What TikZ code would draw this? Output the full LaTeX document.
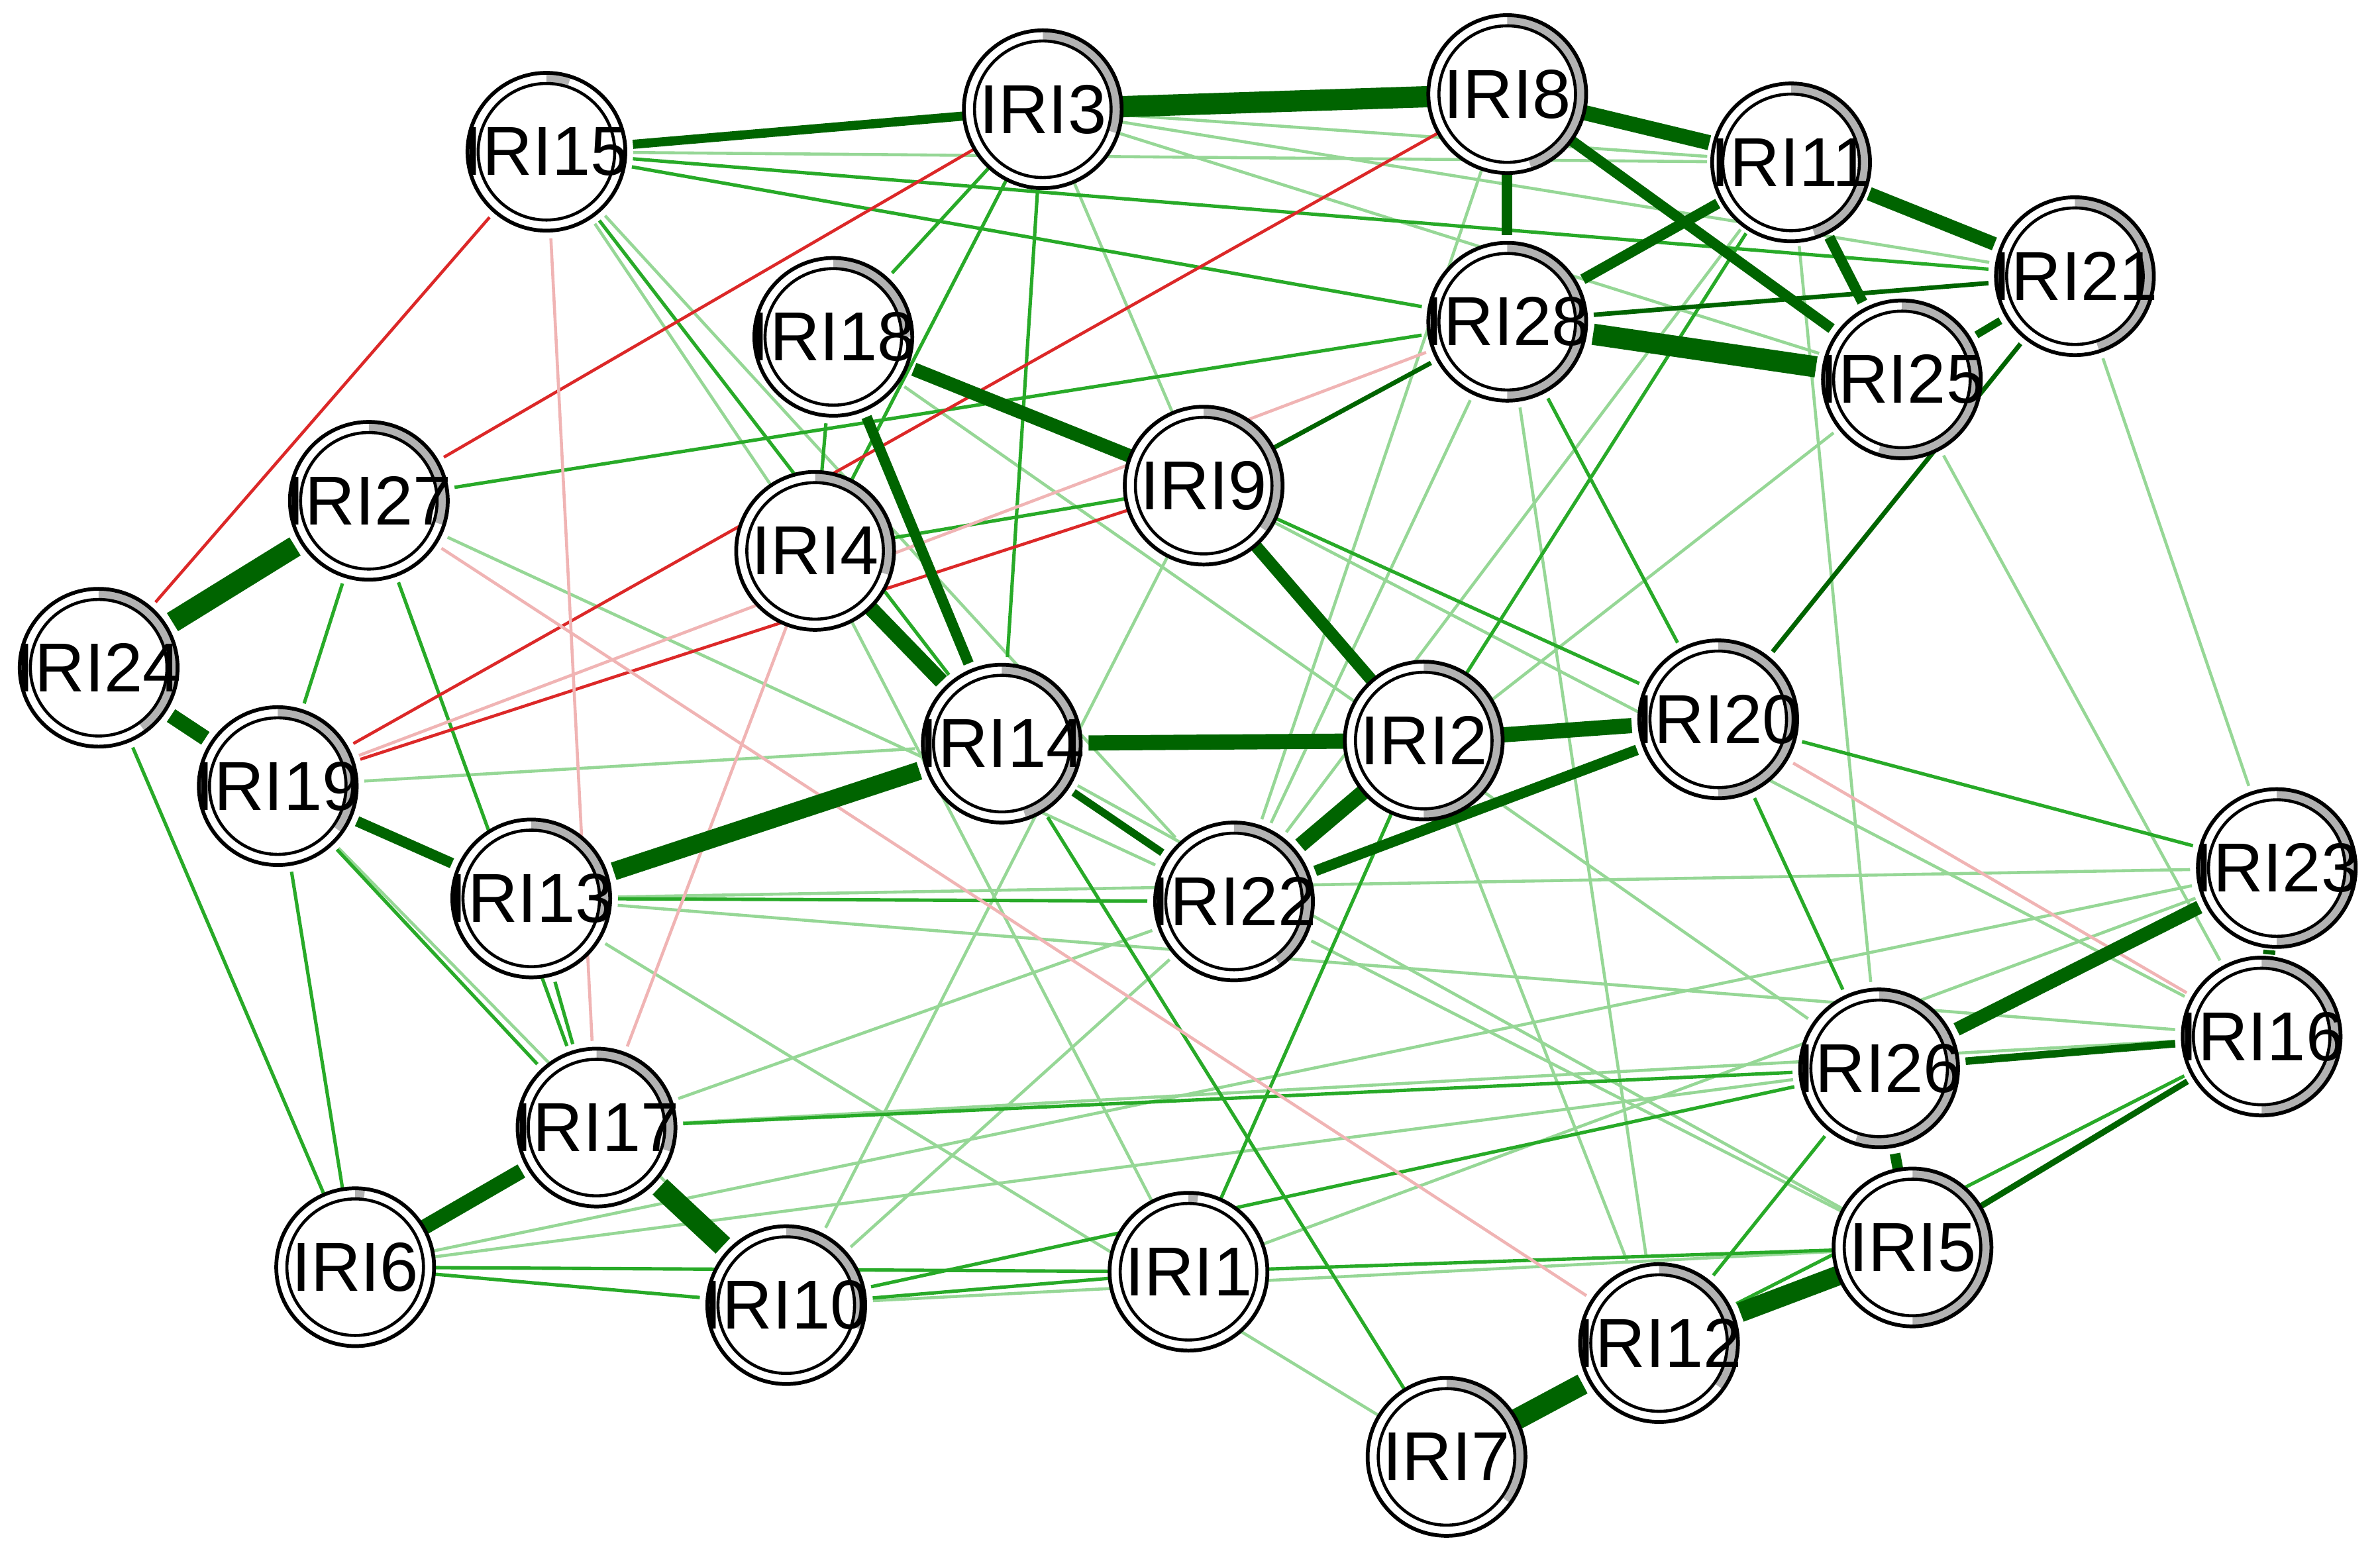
\documentclass[tikz,border=0pt]{standalone}
\usepackage{fontspec}
\setmainfont{Liberation Sans}
\pgfdeclarelayer{bg}\pgfsetlayers{bg,main}
\definecolor{dg}{RGB}{0,100,0}
\definecolor{mg}{RGB}{40,170,40}
\definecolor{lg}{RGB}{150,215,150}
\definecolor{rd}{RGB}{220,40,40}
\definecolor{lr}{RGB}{240,180,180}
\tikzset{
 thk/.style={line width=#1*0.2mm, draw=dg},
 med/.style={line width=0.45mm, draw=mg},
 lig/.style={line width=0.4mm, draw=lg},
 red/.style={line width=0.4mm, draw=rd},
 lred/.style={line width=0.4mm, draw=lr},
 nd/.style={circle, minimum size=2.08cm, inner sep=0pt, font=\fontsize{26}{30}\selectfont}
}
\newcommand\inode[4]{%
 \fill[white] (#2,#3) circle (1.04cm);
 \fill[gray!60] (#2,#3) -- ++(90:1.04cm) arc[start angle=90, end angle={90-360*#4}, radius=1.04cm] -- cycle;
 \fill[white] (#2,#3) circle (0.9cm);
 \draw[line width=0.5mm] (#2,#3) circle (1.04cm);
 \draw[line width=0.4mm] (#2,#3) circle (0.9cm);
 \node[nd] (#1) at (#2,#3) {#1};}
\begin{document}
\begin{tikzpicture}[x=0.02cm,y=-0.02cm]
\useasboundingbox (0,0) rectangle (1568,1027);
\inode{IRI15}{360}{100}{0.05}
\inode{IRI3}{687}{72}{0.3}
\inode{IRI8}{993}{62}{0.45}
\inode{IRI11}{1180}{107}{0.45}
\inode{IRI21}{1367}{182}{0.45}
\inode{IRI28}{993}{212}{0.5}
\inode{IRI25}{1253}{250}{0.55}
\inode{IRI18}{549}{222}{0.25}
\inode{IRI27}{243}{330}{0.3}
\inode{IRI9}{793}{320}{0.35}
\inode{IRI4}{537}{363}{0.3}
\inode{IRI24}{65}{440}{0.4}
\inode{IRI19}{183}{518}{0.35}
\inode{IRI14}{660}{490}{0.45}
\inode{IRI2}{938}{488}{0.5}
\inode{IRI20}{1132}{474}{0.5}
\inode{IRI13}{350}{592}{0.3}
\inode{IRI22}{813}{594}{0.4}
\inode{IRI23}{1500}{572}{0.5}
\inode{IRI16}{1490}{683}{0.5}
\inode{IRI26}{1238}{704}{0.55}
\inode{IRI17}{393}{743}{0.3}
\inode{IRI6}{234}{835}{0.02}
\inode{IRI10}{518}{860}{0.3}
\inode{IRI1}{783}{838}{0.02}
\inode{IRI5}{1260}{822}{0.5}
\inode{IRI12}{1093}{885}{0.35}
\inode{IRI7}{953}{960}{0.35}
\begin{pgfonlayer}{bg}
\foreach \a/\b in {IRI15/IRI22,IRI15/IRI4,IRI3/IRI11,IRI3/IRI25,IRI3/IRI9,IRI27/IRI22,IRI19/IRI14,IRI13/IRI23,IRI17/IRI22,IRI10/IRI22,IRI6/IRI26,IRI13/IRI7,IRI22/IRI5,IRI2/IRI12,IRI9/IRI16,IRI25/IRI16,IRI28/IRI22,IRI11/IRI26,IRI8/IRI22,IRI10/IRI9,IRI21/IRI23,IRI15/IRI11,IRI3/IRI21,IRI14/IRI5,IRI17/IRI16,IRI1/IRI23,IRI6/IRI23,IRI28/IRI12,IRI18/IRI26,IRI13/IRI16,IRI25/IRI22,IRI11/IRI22,IRI4/IRI1,IRI19/IRI10,IRI10/IRI5}
  \draw[lig] (\a) -- (\b);
\foreach \a/\b in {IRI18/IRI4,IRI28/IRI9,IRI27/IRI28,IRI19/IRI17,IRI27/IRI17,IRI13/IRI17,IRI6/IRI10,IRI10/IRI1,IRI1/IRI5,IRI1/IRI2,IRI17/IRI26,IRI6/IRI1,IRI2/IRI11,IRI9/IRI20,IRI20/IRI23,IRI20/IRI26,IRI28/IRI20,IRI3/IRI14,IRI3/IRI18,IRI15/IRI21,IRI15/IRI14,IRI12/IRI16,IRI12/IRI26,IRI24/IRI6,IRI19/IRI6,IRI27/IRI19,IRI14/IRI7,IRI3/IRI4,IRI4/IRI9,IRI15/IRI28,IRI10/IRI26,IRI13/IRI22}
  \draw[med] (\a) -- (\b);
\foreach \a/\b in {IRI15/IRI24,IRI3/IRI27,IRI9/IRI19,IRI8/IRI19}
  \draw[red] (\a) -- (\b);
\foreach \a/\b in {IRI27/IRI12,IRI15/IRI17,IRI4/IRI17,IRI19/IRI28,IRI20/IRI16}
  \draw[lred] (\a) -- (\b);
\foreach \a/\b/\w in {IRI3/IRI8/14,IRI15/IRI3/6,IRI8/IRI11/10,IRI11/IRI21/9,IRI8/IRI28/7,IRI8/IRI25/7,IRI11/IRI28/7,IRI11/IRI25/7,IRI28/IRI25/14,IRI21/IRI25/5,IRI18/IRI9/9,IRI18/IRI14/7,IRI4/IRI14/10,IRI9/IRI2/8,IRI14/IRI2/10,IRI2/IRI20/10,IRI2/IRI22/10,IRI22/IRI20/7,IRI14/IRI22/5,IRI14/IRI13/12,IRI24/IRI27/14,IRI24/IRI19/10,IRI19/IRI13/7,IRI17/IRI6/10,IRI17/IRI10/14,IRI23/IRI26/9,IRI23/IRI16/8,IRI26/IRI16/5,IRI26/IRI5/7,IRI5/IRI12/13,IRI12/IRI7/14,IRI5/IRI16/4,IRI20/IRI21/3,IRI28/IRI21/3,IRI28/IRI9/3}
  \draw[thk=\w] (\a) -- (\b);
\end{pgfonlayer}
\end{tikzpicture}
\end{document}
